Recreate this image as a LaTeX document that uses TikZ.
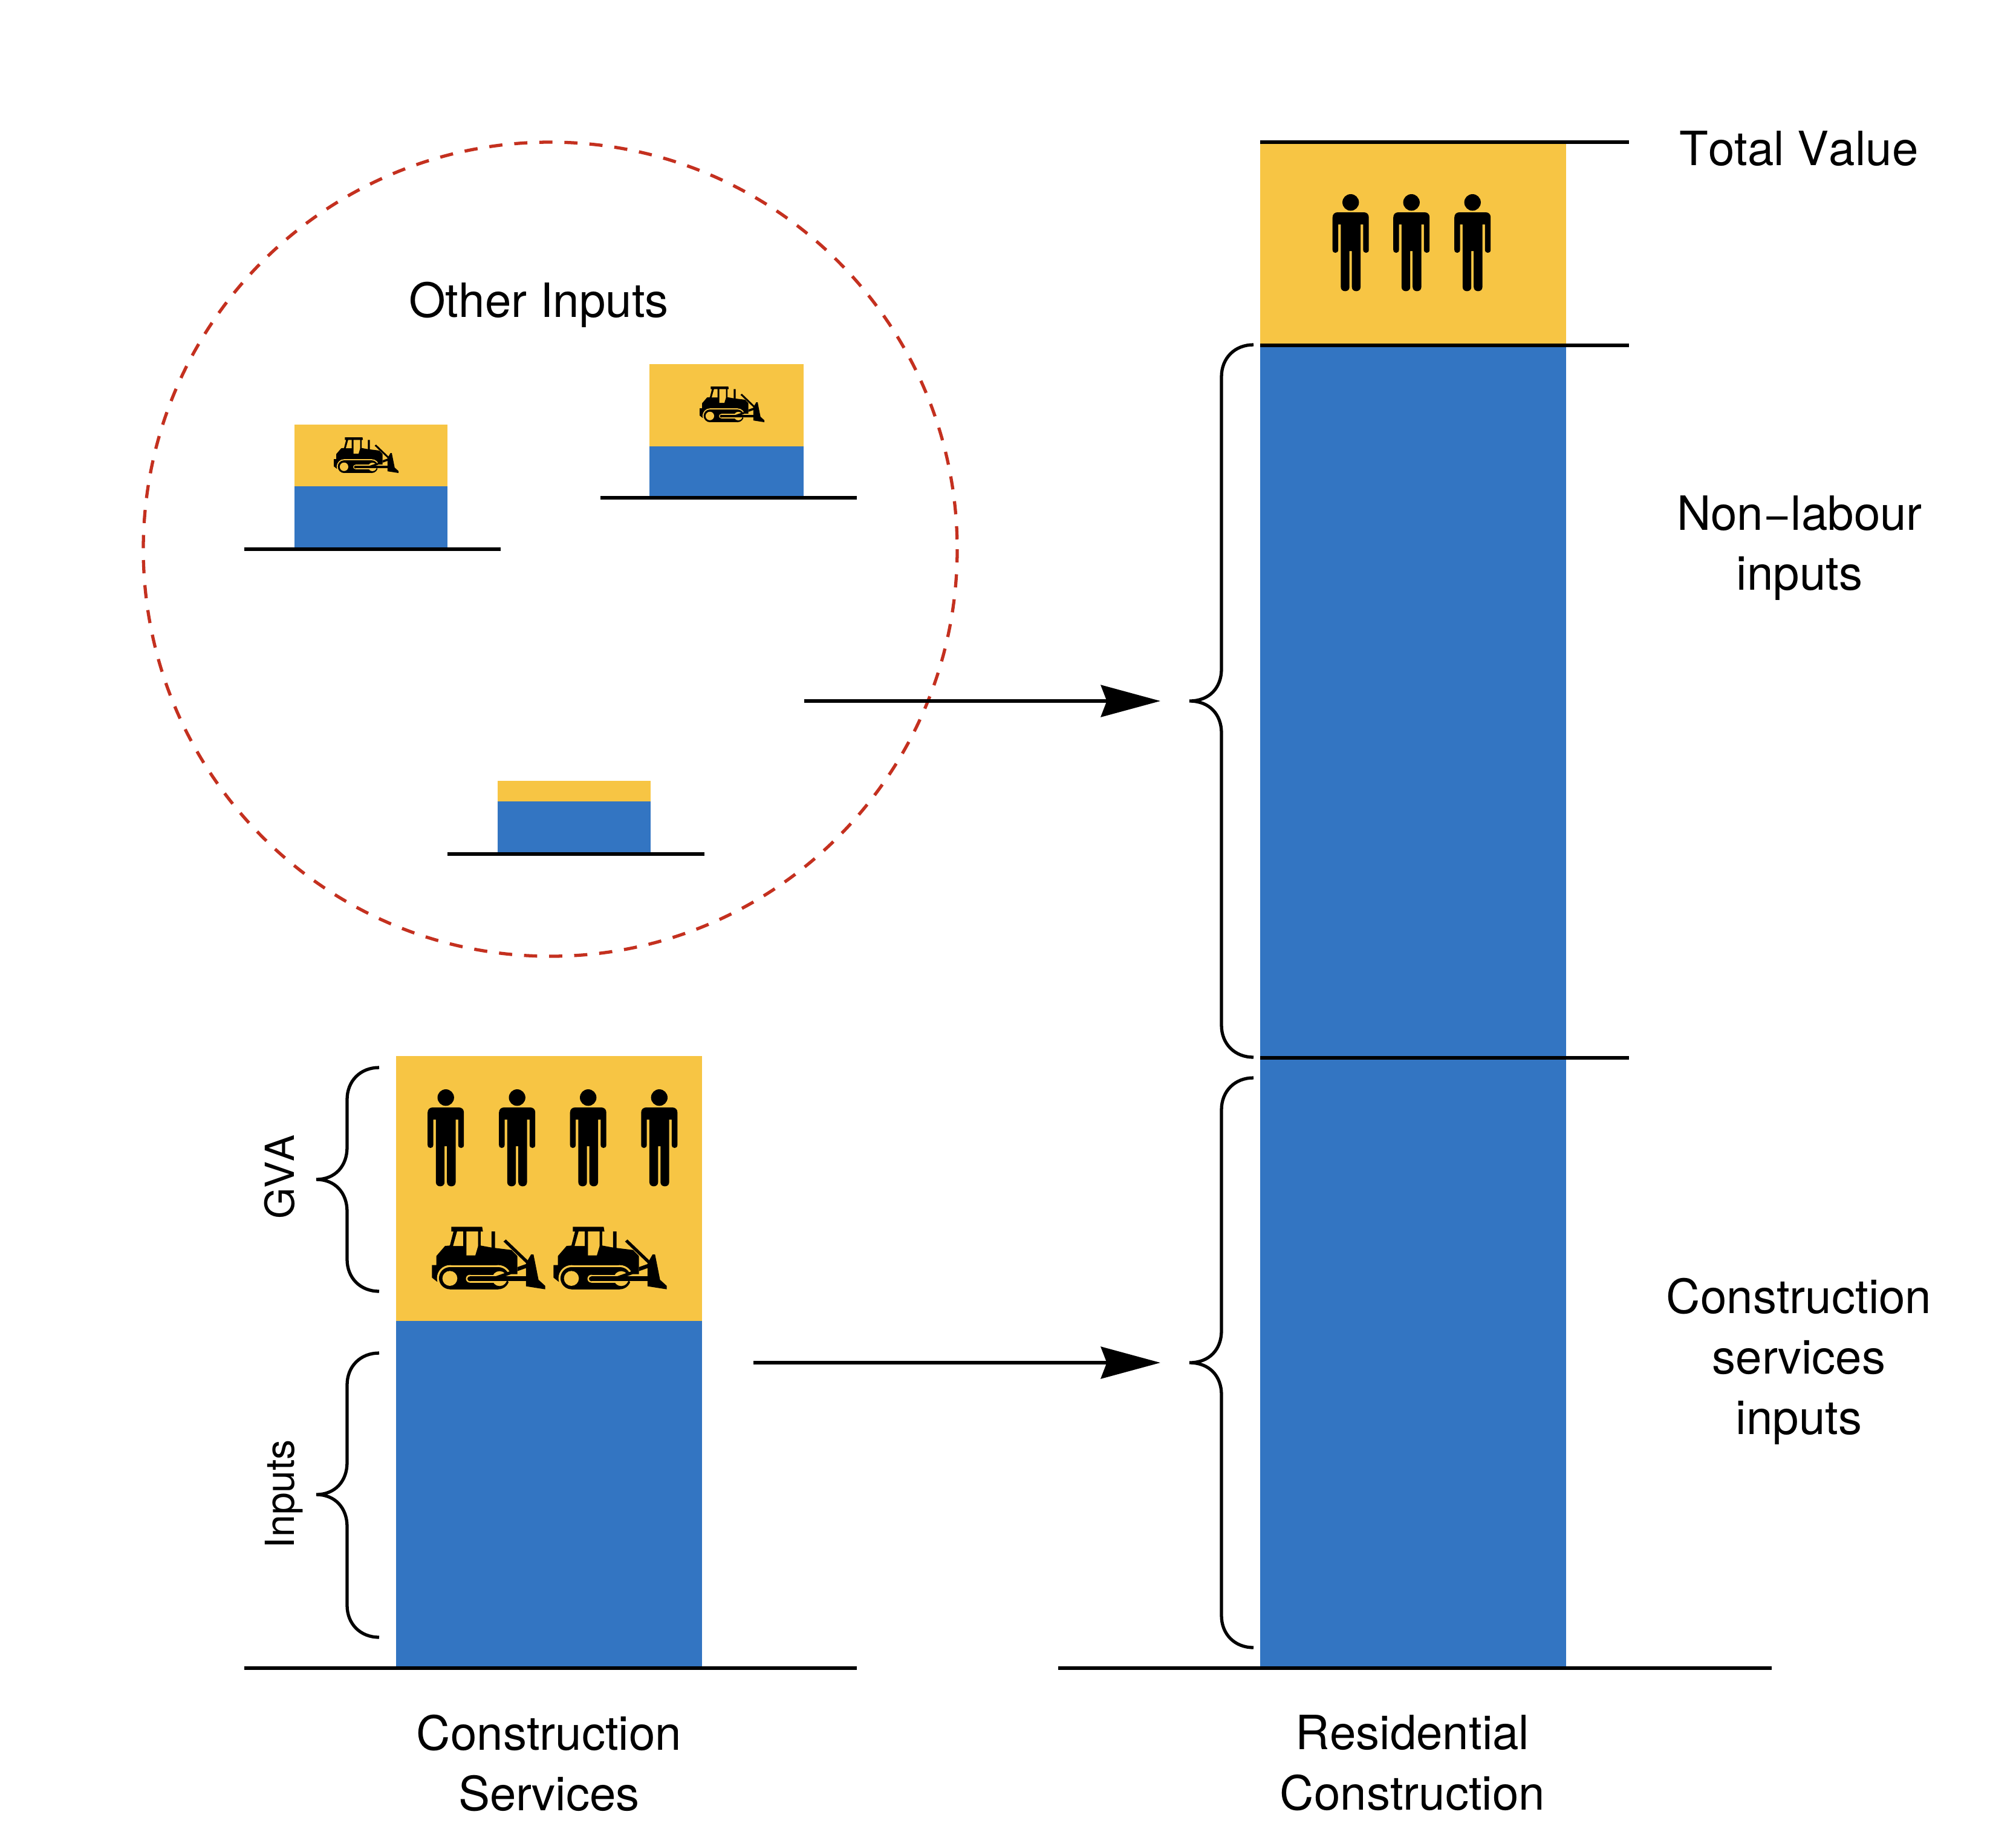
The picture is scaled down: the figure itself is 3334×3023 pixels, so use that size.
\documentclass[tikz,border=0pt]{standalone}
\usepackage{fontspec}
\setmainfont[Kerning=Off]{TeX Gyre Heros}
\usetikzlibrary{arrows.meta}
\definecolor{barY}{HTML}{F7C544}
\definecolor{barB}{HTML}{3375C2}
\definecolor{ringR}{HTML}{C4301F}
\tikzset{
  rule/.style={line width=1.5pt,black},
  bracket/.style={line width=1.5pt,black,line cap=butt},
  flow/.style={line width=1.5pt,black,-{Stealth[length=28pt,width=15pt,inset=2.8pt]}},
  ring/.style={draw=ringR,line width=1.5pt,dash pattern=on 6.2pt off 5.6pt},
  biglabel/.style={font=\fontsize{22.2}{28.4}\selectfont,align=center,inner sep=0pt},
  sidelabel/.style={font=\fontsize{18.8}{22}\selectfont,rotate=90,inner sep=0pt,anchor=base},
  person/.pic={
    \fill (0,41) circle[radius=41];
    \fill (-65,90) -- (65,90) .. controls (80,90) and (90,100) .. (90,115) -- (90,276)
      .. controls (90,296) and (62,296) .. (62,276) -- (62,150) -- (49,150) -- (49,461)
      .. controls (49,488) and (6,488) .. (6,461) -- (6,282) -- (-6,282) -- (-6,461)
      .. controls (-6,488) and (-49,488) .. (-49,461) -- (-49,150) -- (-62,150) -- (-62,276)
      .. controls (-62,296) and (-90,296) .. (-90,276) -- (-90,115)
      .. controls (-90,100) and (-80,90) .. (-65,90) -- cycle;
  },
  dozer/.pic={
    \begin{scope}[shift={(-103,-745)}]
    % body
    \fill (168,840) -- (192,838) -- (210,768) -- (199,768) -- (199,745) -- (352,745) -- (356,768)
      -- (345,768) -- (345,838) -- (399,848) -- (399,768) -- (416,768) -- (416,850) -- (498,860)
      -- (527,890) -- (527,980) -- (490,980) -- (490,1017) -- (128,1017) -- (103,997) -- (103,935)
      -- (125,935) -- (125,890) -- cycle;
    % windows
    \fill[barY] (228,768) -- (258,768) -- (258,840) -- (208,840) -- cycle;
    \fill[barY] (274,768) -- (332,768) -- (332,840) -- (318,887) -- (274,887) -- cycle;
    % track surround
    \fill[barY] (193,935) rectangle (432,1065);
    \fill[barY] (193,1000) circle[radius=65];
    \fill[barY] (432,1000) circle[radius=65];
    \fill (193,945) rectangle (432,1055);
    \fill (193,1000) circle[radius=55];
    \fill (432,1000) circle[radius=55];
    % wheels
    \fill[barY] (192,1001) circle[radius=37];
    \fill[barY] (439,1002) circle[radius=37];
    % slot
    \fill[barY] (291,983) rectangle (425,1022);
    \fill[barY] (291,1002.5) circle[radius=19.5];
    \fill (291,991) rectangle (480,1015);
    \fill (291,1003) circle[radius=12];
    % blade gap, arm and strut
    \fill[barY] (474,984) -- (570,984) -- (570,1025) -- (490,1025) -- (480,1015) -- cycle;
    \fill (415,992) -- (489,966) -- (496,980) -- (440,1000) -- cycle;
    \fill (470,990) rectangle (575,1015);
    \fill (527,945) -- (575,928) -- (575,948) -- (527,965) -- cycle;
    \fill (458,818) -- (470,808) -- (582,915) -- (570,925) -- cycle;
    \fill (570,925) -- (595,882) -- (607,882) -- (632,1008) -- (665,1038) -- (665,1055) -- (570,1040) -- cycle;
    \end{scope}
  }
}
\begin{document}
\begin{tikzpicture}[x=0.01cm,y=-0.01cm]
\useasboundingbox (0,0) rectangle (3334,3023);
\fill[white] (0,0) rectangle (3334,3023);

% dashed circle
\draw[ring] (910,908) circle[radius=673];

% small bars
\fill[barY] (487,702) rectangle (740,804);
\fill[barB] (487,804) rectangle (740,907);
\draw[rule] (404,908) -- (828,908);
\fill[barY] (1074,602) rectangle (1329,738);
\fill[barB] (1074,738) rectangle (1329,822);
\draw[rule] (993,823) -- (1417,823);
\fill[barY] (823,1291) rectangle (1076,1325);
\fill[barB] (823,1325) rectangle (1076,1411);
\draw[rule] (740,1412) -- (1165,1412);
\pic[scale=.1904] at (552,723) {dozer};
\pic[scale=.1904] at (1157,639) {dozer};

% left main bar
\fill[barY] (655,1746) rectangle (1161,2184);
\fill[barB] (655,2184) rectangle (1161,2757);
\draw[rule] (404,2758) -- (1417,2758);
\foreach \px in {737.2,855.2,972.7,1090.3} \pic[scale=.3333] at (\px,1801) {person};
\pic[scale=.3333] at (714.3,2028.3) {dozer};
\pic[scale=.3333] at (915.3,2028.3) {dozer};

% right main bar
\fill[barY] (2084,234) rectangle (2590,570);
\fill[barB] (2084,570) rectangle (2590,2757);
\draw[rule] (1750,2758) -- (2930,2758);
\draw[rule] (2084,235) -- (2694,235);
\draw[rule] (2084,571) -- (2694,571);
\draw[rule] (2084,1749) -- (2694,1749);
\foreach \px in {2233.7,2334.2,2435.2} \pic[scale=.3333] at (\px,321) {person};

% braces
\newcommand{\bracepath}[6]{%
  \draw[bracket] (#3,#4) .. controls ({#2+22},#4) and (#2,{#4+22}) .. (#2,{#4+53})
    -- (#2,{#5-53}) .. controls (#2,{#5-22}) and ({#2-20},#5) .. (#1,#5)
    .. controls ({#2-20},#5) and (#2,{#5+22}) .. (#2,{#5+53})
    -- (#2,{#6-53}) .. controls (#2,{#6-22}) and ({#2+22},#6) .. (#3,#6);}
\bracepath{1967}{2020}{2073}{570}{1159}{1748}
\bracepath{1967}{2020}{2073}{1782}{2253}{2724}
\bracepath{523}{574}{627}{1765}{1950}{2135}
\bracepath{523}{574}{627}{2237}{2471}{2707}

% arrows
\coordinate (a1s) at (1330,1159);
\coordinate (a1e) at (1919,1159);
\coordinate (a2s) at (1246,2253);
\coordinate (a2e) at (1919,2253);
\draw[flow] (a1s) -- (a1e);
\draw[flow] (a2s) -- (a2e);

% labels
\node[biglabel] (other) at (891,504) {Other Inputs};
\node[biglabel] (total) at (2975,246) {Total Value};
\node[biglabel] (nonlab) at (2976,906) {Non−labour\\inputs};
\node[biglabel] (csinputs) at (2975,2251) {Construction\\services\\inputs};
\node[biglabel] (cs) at (908,2915) {Construction\\Services};
\node[biglabel] (rc) at (2336,2915) {Residential\\Construction};
\node[sidelabel] (gva) at (486,1946) {GVA};
\node[sidelabel] (inp) at (486,2470) {Inputs};
\end{tikzpicture}
\end{document}
